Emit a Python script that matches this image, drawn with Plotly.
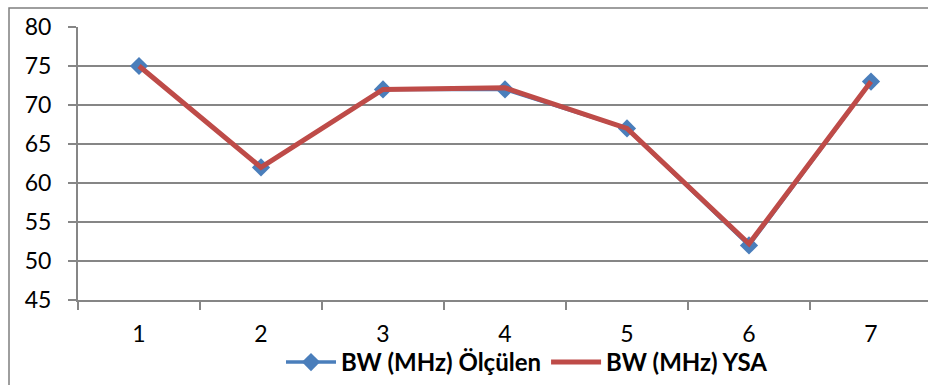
import plotly.graph_objects as go

categories = ["1", "2", "3", "4", "5", "6", "7"]
bw_olculen = [75, 62, 72, 72, 67, 52, 73]
bw_ysa = [75, 62, 72, 72.2, 67, 52.2, 73]
y_ticks = [45, 50, 55, 60, 65, 70, 75, 80]

W, H = 928, 385
L, R, T, B = 78, 0, 27, 85
plot_w = W - L - R
plot_h = H - T - B

fig = go.Figure()
fig.add_trace(go.Scatter(
    x=categories, y=bw_olculen, name="BW (MHz) Ölçülen",
    mode="lines+markers",
    line=dict(color="#4A7EBB", width=3.5),
    marker=dict(symbol="diamond", size=14, color="#4A7EBB"),
))
fig.add_trace(go.Scatter(
    x=categories, y=bw_ysa, name="BW (MHz) YSA",
    mode="lines",
    line=dict(color="#BE4B48", width=5),
))

# outer chart-area frame (extends past the page on the right and bottom)
fig.add_shape(type="rect", xref="paper", yref="paper",
              x0=(9 - L) / plot_w, x1=1.2,
              y0=-0.6, y1=(H - B - 8) / plot_h,
              line=dict(color="#7F7F7F", width=1.5), layer="below")

fig.update_layout(
    width=W, height=H,
    margin=dict(l=L, r=R, t=T, b=B, pad=0),
    paper_bgcolor="white", plot_bgcolor="white",
    font=dict(family="Lato, Carlito, sans-serif", size=23, color="black"),
    showlegend=True,
    legend=dict(orientation="h", x=(527 - L) / plot_w, xanchor="center",
                y=(H - B - 385) / plot_h, yanchor="bottom",
                font=dict(size=24, family="Lato, sans-serif", weight="bold"),
                itemwidth=50, traceorder="normal", bgcolor="rgba(0,0,0,0)"),
    xaxis=dict(
        type="category", range=[-0.5, -0.5 + plot_w / 122],
        tickson="boundaries", ticks="outside", ticklen=8,
        tickcolor="#868686", tickwidth=1.5,
        showline=True, linecolor="#868686", linewidth=2,
        showgrid=False, ticklabelstandoff=12,
    ),
    yaxis=dict(
        range=[45, 80], tickvals=y_ticks,
        ticks="outside", ticklen=8, tickcolor="#868686", tickwidth=1.5,
        showline=True, linecolor="#868686", linewidth=2,
        showgrid=True, gridcolor="#868686", gridwidth=1.5,
        zeroline=False, ticklabelstandoff=12,
    ),
)

fig.write_html("out.html")
